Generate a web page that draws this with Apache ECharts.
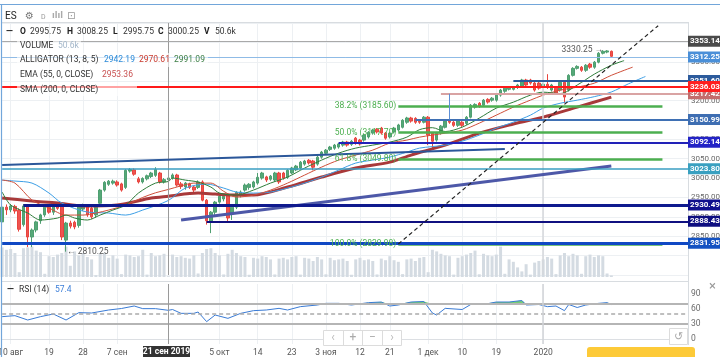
<!DOCTYPE html>
<html><head><meta charset="utf-8">
<script src="https://cdn.jsdelivr.net/npm/echarts@6/dist/echarts.min.js"></script>
<style>html,body{margin:0;padding:0;background:#fff;}#c{width:720px;height:357px;}</style>
</head><body><div id="c"></div><script>
// ---------------- DATA ----------------
const sessionCount = 162;
const categories = Array.from({length: sessionCount}, (_, i) => 'S' + i);
const tickLabels = [[2,'10 авг'],[11,'19'],[19,'28'],[27,'7 сен'],[51,'5 окт'],[60,'14'],[68,'23'],[76,'3 ноя'],[84,'12'],[91,'21'],[100,'1 дек'],[108,'10'],[116,'19'],[127,'2020']];
const crosshairIndex = 39;
const crosshairLabel = '21 сен 2019';
const yearIndex = 127;

// [open, close, low, high]
const candles = [
[2887,2925,2861,2930],[2925,2918,2905,2932],[2918,2928,2912,2933],[2927,2915,2908,2931],[2917,2868,2862,2922],
[2880,2928,2875,2933],[2930,2848,2822,2932],[2848,2866,2822,2870],[2866,2887,2860,2890],[2890,2905,2882,2908],
[2905,2925,2900,2928],[2925,2912,2908,2930],[2912,2930,2905,2934],[2930,2922,2918,2935],[2930,2848,2840,2934],
[2840,2884,2810.25,2887],[2884,2876,2870,2890],[2886,2874,2868,2890],[2878,2928,2872,2932],[2920,2930,2915,2934],
[2930,2905,2900,2933],[2922,2900,2895,2925],[2905,2925,2898,2930],[2935,2969,2932,2972],[2969,2989,2965,2992],
[2984,2992,2980,2995],[2987,2992,2983,2996],[2990,2982,2978,2994],[2985,2969,2965,2988],[2976,3020,2972,3023],
[3018,3022,3014,3026],[3021,3010,3006,3025],[2998,2990,2986,3003],[2990,2999,2986,3002],[2998,3006,2994,3009],
[3004,3013,3000,3016],[3007,3022,3003,3028],[3013,2990,2986,3016],[2990,2996,2986,3000],[2995.75,3000.25,2995.75,3008.25],
[3000,3008,2996,3012],[3008,2982,2978,3011],[2985,2978,2972,2990],[2977,2987,2970,2990],[2985,2976,2972,2988],
[2977,2969,2964,2980],[2976,2990,2972,2994],[2990,2943,2940,2994],[2943,2890,2880,2946],[2886,2912,2858,2915],
[2912,2938,2905,2941],[2938,2953,2934,2956],[2946,2953,2940,2957],[2956,2897,2886,2960],[2910,2925,2892,2928],
[2925,2963,2920,2966],[2956,2964,2950,2968],[2969,2982,2965,2986],[2976,2984,2970,2987],[2977,2990,2973,2993],
[2987,3002,2983,3013],[3000,3013,2996,3016],[3003,2995,2990,3006],[2997,3005,2993,3008],[2995,3013,2990,3016],
[3013,2990,2985,3016],[3013,3000,2996,3016],[3002,3020,2998,3023],[3013,3026,3010,3029],[3021,3031,3018,3034],
[3026,3041,3022,3044],[3036,3044,3032,3047],[3046,3039,3035,3049],[3044,3028,3020,3047],[3036,3054,3032,3058],
[3054,3067,3050,3070],[3064,3072,3060,3075],[3074,3080,3070,3083],[3077,3085,3073,3088],[3080,3088,3076,3091],
[3085,3093,3081,3096],[3093,3085,3081,3096],[3087,3095,3083,3098],[3103,3090,3086,3106],[3098,3088,3084,3101],
[3098,3111,3094,3114],[3106,3118,3102,3121],[3116,3124,3112,3127],[3126,3119,3115,3129],[3129,3116,3112,3132],
[3116,3103,3099,3119],[3106,3116,3102,3119],[3119,3129,3115,3132],[3124,3137,3120,3140],[3131,3149,3128,3152],
[3144,3155,3140,3158],[3155,3147,3143,3158],[3154,3144,3140,3157],[3147,3144,3140,3150],[3144,3157,3141,3160],
[3157,3111,3085,3160],[3116,3095,3077,3118],[3098,3116,3094,3119],[3116,3134,3112,3137],[3131,3147,3128,3150],
[3147,3144,3140,3150],[3144,3136,3132,3147],[3136,3147,3132,3150],[3144,3136,3132,3147],[3141,3157,3137,3160],
[3157,3188,3154,3191],[3183,3190,3179,3193],[3193,3185,3181,3196],[3188,3201,3184,3204],[3203,3196,3192,3206],
[3201,3206,3197,3209],[3201,3214,3197,3217],[3214,3227,3210,3230],[3224,3232,3220,3235],[3229,3232,3226,3235],
[3229,3234,3226,3237],[3234,3240,3230,3243],[3237,3253,3233,3256],[3253,3240,3236,3256],[3253,3245,3241,3256],
[3245,3227,3223,3248],[3245,3232,3228,3248],[3237,3242,3233,3245],[3242,3234,3230,3268],[3227,3240,3223,3243],
[3232,3219,3215,3235],[3227,3247,3223,3250],[3247,3209,3193,3250],[3227,3265,3223,3268],[3265,3283,3262,3286],
[3283,3288,3280,3291],[3286,3278,3274,3289],[3278,3291,3274,3294],[3294,3286,3282,3297],[3286,3299,3282,3302],
[3299,3322,3296,3325],[3322,3327,3319,3330],[3325,3328,3322,3330.25],[3327,3314,3310,3329]
];

const volumes = [
1850,1700,1750,1500,300,1800, 1850,1900,1650,1550,200,1300, 1250,1400,1500,1900,700,1600,
1350,1500,1250,1100,120,1450, 1500,1200,1350,1150,180,1400, 1350,1250,1300,1700,150,1500,
1300,1350,1450,51,1400,1250, 1300,1200,1150,1350,220,1500, 1750,1800,1500,1350,160,1450,
1700,1500,1300,1250,140,1200, 1150,1300,1250,1100,160,1150, 1200,1100,1250,1300,150,1200,
1150,1000,1250,1100,170,1200, 1050,1100,1150,1000,140,1100, 1200,1050,1100,1000,160,1150,
1050,1300,1050,950,180,1100, 1150,1000,1200,1250,300,1700, 1600,1450,1350,1300,150,1200,
1300,1400,1500,1650,170,1450, 1350,1300,1400,1900,200,1100, 950,600,350,800,150,900,
1000,1100,1250,1150,180,1350, 1500,1300,1450,1350,200,1300, 1400,1250,1350,1300,220,100
];

// Alligator (13,8,5) and EMA 55 at sample sessions: [session, value]
const jaw = [[0,2994.8],[3,2992.3],[7,2987.1],[11,2961.4],[14,2935.6],[20,2912.4],[25,2909.8],[29,2904.6],[33,2917.5],[39,2942.19],[43,2974.2],[48,2984.5],[52,2974.2],[55,2963.9],[59,2961.4],[63,2963.9],[67,2974.2],[71,2987.1],[75,3002.6],[79,3020.6],[83,3038.7],[87,3046.4],[91,3054.1],[95,3067.0],[98,3077.3],[104,3085.0],[108,3095.3],[112,3110.8],[116,3128.8],[120,3144.3],[124,3162.3],[127,3180.4],[131,3193],[135,3201],[139,3210],[143,3222],[147,3243],[151,3262]];
const teeth = [[0,2994.8],[3,2987.1],[7,2943.3],[11,2922.7],[15,2904.6],[19,2904.6],[22,2909.8],[25,2917.5],[29,2930.4],[33,2950],[36,2962],[39,2970.61],[42,2980],[45,2987],[49,2987],[52,2966],[55,2951],[59,2956],[63,2969],[67,2987],[71,3007.7],[75,3028.4],[79,3046.4],[83,3059.3],[87,3072.2],[91,3090.2],[95,3097.9],[98,3105.6],[104,3115.9],[108,3123.7],[112,3141.7],[116,3162.3],[120,3183],[124,3201],[127,3213.9],[131,3226.8],[135,3234.5],[139,3244.8],[143,3265],[148,3286.1]];
const lips = [[0,2963.9],[2,2930.4],[6,2909.8],[9,2891.8],[13,2896.9],[15,2904.6],[17,2896.9],[20,2891.8],[23,2904.6],[26,2917.5],[29,2930.4],[32,2961.4],[36,2987.1],[39,2991.09],[40,3000.0],[43,2994.8],[46,2989.7],[49,2976.8],[51,2961.4],[55,2956.2],[59,2969.1],[63,2987.1],[67,3002.6],[71,3025.8],[75,3046.4],[79,3064.4],[83,3077.3],[87,3085.0],[91,3092.8],[95,3105.6],[98,3125],[101,3130],[104,3120],[108,3131.4],[112,3154.6],[116,3180.4],[120,3195.8],[124,3213.9],[127,3221.6],[131,3218],[135,3240],[139,3268],[143,3291],[146,3303]];
const ema55 = [[0,2948.5],[7,2940.7],[13,2935.6],[19,2927.9],[27,2930.4],[35,2948.5],[39,2953.36],[46,2961.4],[50,2958.8],[55,2956.2],[59,2956.2],[67,2976.8],[75,3002.6],[83,3025.8],[91,3041.2],[96,3059.3],[104,3085.0],[112,3115.9],[119,3136.6],[127,3157.2],[135,3183.0],[143,3208.7]];

const rsi = [[0,44.7],[3,46.7],[6,38],[9,44.7],[12,50],[15,38],[18,52.7],[21,52],[25,58],[28,61],[31,66],[33,60.7],[36,60.7],[39,57.4],[40,59],[42,51.3],[45,51.3],[46,54],[48,34.7],[50,48],[53,41.3],[56,51.3],[59,56.7],[62,58],[65,61.3],[67,58],[70,64.7],[74,68],[76,71.3],[79,71.3],[82,68],[86,72.7],[89,74],[91,66],[93,68],[96,74],[99,75],[101,52],[102,48],[104,61.3],[108,59],[110,69],[113,69],[116,74],[119,74],[122,77],[123,68],[126,69],[128,64.7],[130,66],[132,56.7],[133,69],[135,63],[137,68],[140,71.3],[142,72.7],[143,69]];
const rsiLevels = [70, 50, 30];

// Drawings (price levels, with the session where each drawing starts; null = whole width)
const levelPrices = [3353.14, 3312.25, 3251.60, 3217.42, 3236.03, 3150.99, 3092.14, 3023.80, 2930.49, 2888.43, 2831.95];
const levelStarts = [null, null, 120, 103, null, 97, 79, null, 5, 48, null];
const fibLabels = ['38.2%', '50.0%', '61.8%', '100.0%'];
const fibPrices = [3185.60, 3117.70, 3049.80, 2829.98];
const fibRange = [93, 155];
const trendDashed = [[93, 2830], [154, 3393]];
const trendBlue = [[0, 3033.5], [118, 3074.7]];
const trendPurple = [[42, 2891.8], [143, 3030.9]];
const rangeVertical = [[105, 3217.42], [105, 3150.99]];
const highNote = [142, 3330.25];
const lowNote = [15, 2810.25];

// ---------------- STYLE ----------------
const FONT = 'Roboto, "Liberation Sans", Arial, sans-serif';
const levelColors = ['#a9a9a9','#8fbbe6','#2c5b9c','#d9a3a3','#ff1a1a','#3f70b4','#2222b8','#3a9ec2','#0f1a8e','#101080','#1048c4'];
const levelWidths = [1,1,2,2,2,2,2,1.5,3,2,3];
const labelBgs = ['#4b4b4b','#4a8fd8','#2c5b9c','#c46c6c','#ff1f1f','#3e6eb2','#2323c6','#39a0c0','#10108e','#0e0e80','#1452c2'];

const tickMap = new Map(tickLabels);
const isTick = (i) => tickMap.has(i);

function boxLabel(text, bg) {
  return {show: true, position: 'end', distance: 0, formatter: text, color: '#fff', fontWeight: 'bold',
    backgroundColor: bg, padding: [2, 2, 1, 2], fontSize: 8, lineHeight: 8, fontFamily: FONT};
}

const drawLines = [];
drawLines.push({xAxis: crosshairIndex, lineStyle: {color: '#9a9a9a', width: 1, type: 'solid'}, label: {show: false}});
drawLines.push({xAxis: yearIndex, lineStyle: {color: '#d4d7db', width: 1.5, type: 'solid'}, label: {show: false}});
drawLines.push([{coord: trendBlue[0], lineStyle: {color: '#2b579a', width: 2, type: 'solid'}, label: {show: false}}, {coord: trendBlue[1]}]);
drawLines.push([{coord: trendPurple[0], lineStyle: {color: '#4d58a8', width: 3, type: 'solid'}, label: {show: false}}, {coord: trendPurple[1]}]);
fibPrices.forEach((p, i) => {
  drawLines.push([{coord: [fibRange[0], p], lineStyle: {color: '#4caf50', width: 2.5, type: 'solid'},
    label: {show: true, position: 'start', distance: 2, formatter: fibLabels[i] + ' (' + p.toFixed(2) + ')',
      color: '#4caf50', fontSize: 8.5, fontFamily: FONT}}, {coord: [fibRange[1], p]}]);
});
levelPrices.forEach((p, i) => {
  const ls = {color: levelColors[i], width: levelWidths[i], type: 'solid'};
  const lb = boxLabel(p.toFixed(2), labelBgs[i]);
  if (levelStarts[i] === null) drawLines.push({yAxis: p, lineStyle: ls, label: lb});
  else drawLines.push([{coord: [levelStarts[i], p], lineStyle: ls, label: lb}, {coord: [sessionCount - 1, p]}]);
});
drawLines.push([{coord: rangeVertical[0], lineStyle: {color: '#5d8fd6', width: 1, type: 'solid'}, label: {show: false}}, {coord: rangeVertical[1]}]);
drawLines.push([{coord: trendDashed[0], lineStyle: {color: '#222', width: 1.2, type: [4, 3]}, label: {show: false}}, {coord: trendDashed[1]}]);

const rsiBase = rsi.map(d => [d[0], 70]);
const rsiOver = rsi.map(d => [d[0], Math.max(d[1] - 70, 0)]);

const gridCommon = {left: 2.15, right: 32, outerBoundsMode: 'none', containLabel: false};
const splitLineStyle = {color: '#edf0f3', width: 1};
const T = (x, y, text, fill, font, extra) => Object.assign({type: 'text', x: x, y: y, z: 60,
  style: Object.assign({text: text, fill: fill, font: font, verticalAlign: 'middle'}, extra || {})});
const F = (s) => s + 'px ' + FONT;
const FB = (s) => 'bold ' + s + 'px ' + FONT;

const option = {
  animation: false,
  backgroundColor: '#fff',
  textStyle: {fontFamily: FONT},
  grid: [
    Object.assign({top: 23, height: 252}, gridCommon),
    Object.assign({top: 245, height: 32}, gridCommon),
    Object.assign({top: 284, height: 60}, gridCommon)
  ],
  xAxis: [
    {type: 'category', gridIndex: 0, data: categories, boundaryGap: false,
     axisLine: {show: false}, axisTick: {show: false}, axisLabel: {show: false},
     splitLine: {show: true, interval: isTick, lineStyle: splitLineStyle}},
    {type: 'category', gridIndex: 1, data: categories, boundaryGap: false,
     axisLine: {show: false}, axisTick: {show: false}, axisLabel: {show: false}, splitLine: {show: false}},
    {type: 'category', gridIndex: 2, data: categories, boundaryGap: false,
     axisLine: {show: true, lineStyle: {color: '#dcdfe3'}}, axisTick: {show: false},
     axisLabel: {show: true, interval: isTick, formatter: (v, i) => tickMap.get(i) || '', color: '#555', fontSize: 8.5, margin: 4, fontFamily: FONT},
     splitLine: {show: true, interval: isTick, lineStyle: splitLineStyle}}
  ],
  yAxis: [
    {type: 'value', gridIndex: 0, position: 'right', min: 2750, max: 3400, interval: 50,
     axisLine: {show: false}, axisTick: {show: false},
     axisLabel: {color: '#6a6a6a', fontSize: 8, margin: 3, fontFamily: FONT,
       formatter: v => (v >= 2850 && v <= 3350) ? v.toFixed(2) : ''},
     splitLine: {show: true, lineStyle: splitLineStyle}},
    {type: 'value', gridIndex: 1, min: 0, max: 2000, show: false},
    {type: 'value', gridIndex: 2, position: 'right', min: -10, max: 110, interval: 10,
     axisLine: {show: false}, axisTick: {show: false}, splitLine: {show: false},
     axisLabel: {color: '#6a6a6a', fontSize: 8.5, margin: 3, fontFamily: FONT,
       formatter: v => [0, 30, 60, 90].includes(v) ? String(v) : ''}}
  ],
  series: [
    {type: 'bar', name: 'Volume', xAxisIndex: 1, yAxisIndex: 1, data: volumes, barWidth: 3,
     itemStyle: {color: '#d4dbe2'}, z: 1, silent: true},
    {type: 'candlestick', name: 'ES', xAxisIndex: 0, yAxisIndex: 0, data: candles, barWidth: 3, z: 3,
     itemStyle: {color: '#55a878', color0: '#ef5350', borderColor: '#4f9f71', borderColor0: '#e8453f', borderWidth: 1},
     markPoint: {symbol: 'circle', symbolSize: 0, silent: true, data: [
       {coord: highNote, label: {show: true, position: 'left', distance: 4, formatter: '3330.25 →', color: '#555', fontSize: 8.5, fontFamily: FONT}},
       {coord: lowNote, label: {show: true, position: 'right', distance: 1, formatter: '← 2810.25', color: '#555', fontSize: 8.5, fontFamily: FONT}}
     ]}},
    {type: 'line', name: 'EMA55', xAxisIndex: 0, yAxisIndex: 0, data: ema55, symbol: 'none', smooth: 0.3,
     lineStyle: {color: '#a8393a', width: 3}, z: 4},
    {type: 'line', name: 'Jaw', xAxisIndex: 0, yAxisIndex: 0, data: jaw, symbol: 'none', smooth: 0.3,
     lineStyle: {color: '#3d9fe6', width: 1}, z: 4},
    {type: 'line', name: 'Teeth', xAxisIndex: 0, yAxisIndex: 0, data: teeth, symbol: 'none', smooth: 0.3,
     lineStyle: {color: '#cf4f3a', width: 1}, z: 4},
    {type: 'line', name: 'Lips', xAxisIndex: 0, yAxisIndex: 0, data: lips, symbol: 'none', smooth: 0.3,
     lineStyle: {color: '#2f7d3a', width: 1}, z: 4},
    {type: 'line', name: 'Drawings', xAxisIndex: 0, yAxisIndex: 0, data: [], z: 5,
     markLine: {symbol: ['none', 'none'], silent: true, animation: false, data: drawLines}},
    // RSI pane
    {type: 'line', name: 'rsiBase', xAxisIndex: 2, yAxisIndex: 2, data: rsiBase, stack: 'rsi', symbol: 'none',
     lineStyle: {width: 0, opacity: 0}, z: 2, silent: true},
    {type: 'line', name: 'rsiOver', xAxisIndex: 2, yAxisIndex: 2, data: rsiOver, stack: 'rsi', symbol: 'none',
     lineStyle: {width: 0, opacity: 0}, areaStyle: {color: '#5cc45f', opacity: 0.85}, z: 2, silent: true},
    {type: 'line', name: 'RSI', xAxisIndex: 2, yAxisIndex: 2, data: rsi, symbol: 'none',
     lineStyle: {color: '#3a7bd5', width: 1}, z: 4,
     markLine: {symbol: ['none', 'none'], silent: true, animation: false, data: [
       {yAxis: rsiLevels[0], lineStyle: {color: '#b5b5b5', width: 2, type: 'solid'}, label: {show: false}},
       {yAxis: rsiLevels[1], lineStyle: {color: '#aaaaaa', width: 1.5, type: [4, 3]}, label: {show: false}},
       {yAxis: rsiLevels[2], lineStyle: {color: '#b5b5b5', width: 2, type: 'solid'}, label: {show: false}},
       {xAxis: crosshairIndex, lineStyle: {color: '#9a9a9a', width: 1, type: 'solid'}, label: {show: false}},
       {xAxis: yearIndex, lineStyle: {color: '#d0d3d7', width: 1.5, type: 'solid'}, label: {show: false}}
     ]}}
  ],
  graphic: [
    // frame & pane borders
    {type: 'line', shape: {x1: 0, y1: 4.5, x2: 720, y2: 4.5}, style: {stroke: '#72a6da', lineWidth: 1.2}, z: 60},
    {type: 'line', shape: {x1: 1.5, y1: 4, x2: 1.5, y2: 357}, style: {stroke: '#72a6da', lineWidth: 1.2}, z: 60},
    {type: 'line', shape: {x1: 2, y1: 22.5, x2: 688, y2: 22.5}, style: {stroke: '#d8dce0', lineWidth: 1}, z: 1},
    {type: 'line', shape: {x1: 688.5, y1: 22, x2: 688.5, y2: 345}, style: {stroke: '#d8dce0', lineWidth: 1}, z: 1},
    {type: 'line', shape: {x1: 2, y1: 281.5, x2: 688, y2: 281.5}, style: {stroke: '#d8dce0', lineWidth: 1}, z: 1},
    // header
    T(5, 16, 'ES', '#222', F(10)),
    T(25, 16, '⚙', '#777', '10px "DejaVu Sans"'),
    T(41, 17, 'D', '#999', F(7)),
    T(52, 16, 'ılıl', '#aaa', 'bold 8px "DejaVu Sans"'),
    T(67, 16, '⊡', '#999', '10px "DejaVu Sans"'),
    // OHLC row
    T(6, 31.5, '—', '#222', FB(9)),
    T(20, 31.5, 'O', '#222', FB(8.5)), T(30, 31.5, '2995.75', '#333', F(8.5)),
    T(67, 31.5, 'H', '#222', FB(8.5)), T(77, 31.5, '3008.25', '#333', F(8.5)),
    T(113, 31.5, 'L', '#222', FB(8.5)), T(123, 31.5, '2995.75', '#333', F(8.5)),
    T(158, 31.5, 'C', '#222', FB(8.5)), T(168, 31.5, '3000.25', '#333', F(8.5)),
    T(204, 31.5, 'V', '#222', FB(8.5)), T(215, 31.5, '50.6k', '#333', F(8.5)),
    // legend backgrounds
    {type: 'rect', shape: {x: 17, y: 38, width: 64, height: 14}, style: {fill: 'rgba(255,255,255,0.6)'}, z: 55},
    {type: 'rect', shape: {x: 17, y: 53, width: 191, height: 14}, style: {fill: 'rgba(255,255,255,0.6)'}, z: 55},
    {type: 'rect', shape: {x: 17, y: 67, width: 114, height: 14}, style: {fill: 'rgba(255,255,255,0.6)'}, z: 55},
    {type: 'rect', shape: {x: 17, y: 82, width: 120, height: 14}, style: {fill: 'rgba(255,255,255,0.6)'}, z: 55},
    T(20, 45.5, 'VOLUME', '#333', F(8.5)), T(58, 45.5, '50.6k', '#a3b6c9', F(8.5)),
    T(20, 60, 'ALLIGATOR (13, 8, 5)', '#333', F(8.5)),
    T(104, 60, '2942.19', '#2b8ad8', F(8.5)), T(139, 60, '2970.61', '#c8382c', F(8.5)), T(174, 60, '2991.09', '#3a7d44', F(8.5)),
    T(20, 74.5, 'EMA (55, 0, CLOSE)', '#333', F(8.5)), T(102, 74.5, '2953.36', '#c85050', F(8.5)),
    T(20, 89.5, 'SMA (200, 0, CLOSE)', '#333', F(8.5)),
    // RSI header
    T(7, 290, '—', '#222', FB(9)), T(19, 290, 'RSI (14)', '#333', F(8.5)), T(55, 290, '57.4', '#3d7fd8', F(8.5)),
    T(709, 287, '×', '#999', F(13)),
    // navigation buttons
    {type: 'rect', shape: {x: 323.5, y: 330.5, width: 78, height: 15}, style: {fill: '#fff', stroke: '#dcdcdc'}, z: 58},
    {type: 'line', shape: {x1: 343.5, y1: 330.5, x2: 343.5, y2: 345.5}, style: {stroke: '#dcdcdc'}, z: 59},
    {type: 'line', shape: {x1: 362.5, y1: 330.5, x2: 362.5, y2: 345.5}, style: {stroke: '#dcdcdc'}, z: 59},
    {type: 'line', shape: {x1: 382.5, y1: 330.5, x2: 382.5, y2: 345.5}, style: {stroke: '#dcdcdc'}, z: 59},
    T(333, 338, '‹', '#bbb', F(12), {align: 'center'}),
    T(353, 338, '+', '#aaa', F(12), {align: 'center'}),
    T(372.5, 338, '−', '#aaa', F(12), {align: 'center'}),
    T(392, 338, '›', '#bbb', F(12), {align: 'center'}),
    {type: 'rect', shape: {x: 669.5, y: 328.5, width: 18, height: 16}, style: {fill: '#fff', stroke: '#dcdcdc'}, z: 58},
    T(678.5, 337, '↺', '#aaa', '11px "DejaVu Sans"', {align: 'center'}),
    // crosshair date & yellow button
    {type: 'rect', shape: {x: 143, y: 346, width: 47, height: 11}, style: {fill: '#333'}, z: 60},
    Object.assign(T(166.5, 351.5, crosshairLabel, '#fff', FB(8.5), {align: 'center'}), {z: 61}),
    {type: 'rect', shape: {x: 587, y: 347, width: 108, height: 11, r: [3, 3, 0, 0]}, style: {fill: '#fdca38'}, z: 60}
  ]
};

const chart = echarts.init(document.getElementById('c'), null, {renderer: 'canvas'});
chart.setOption(option);
</script></body></html>
